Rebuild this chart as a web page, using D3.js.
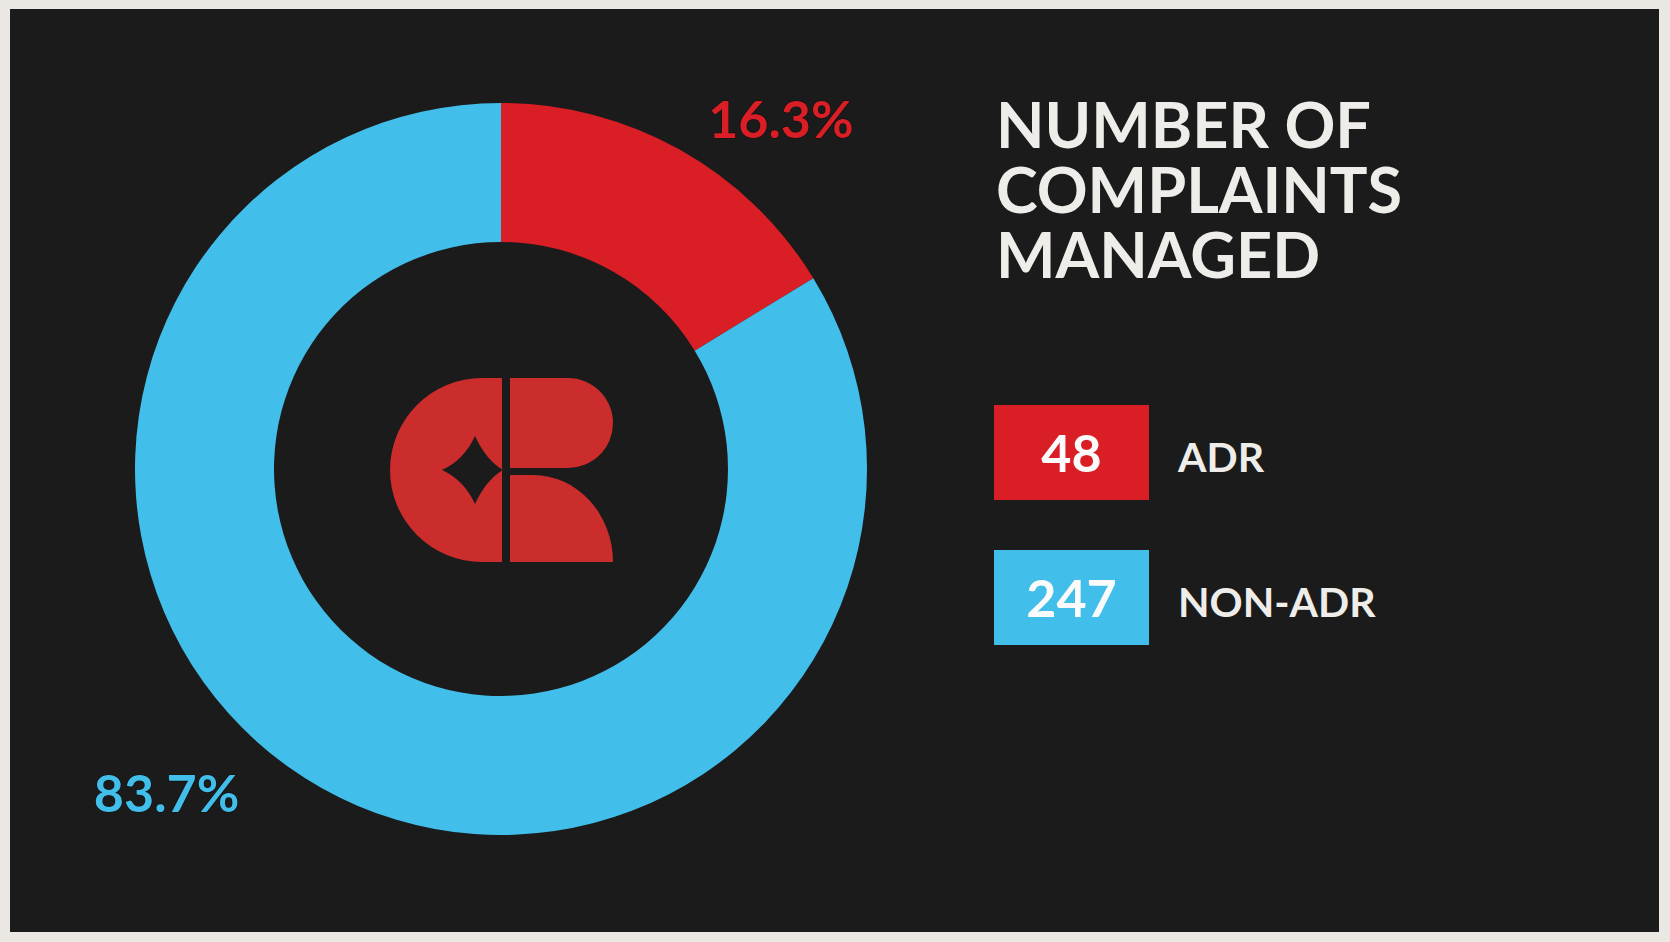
<!DOCTYPE html>
<html>
<head>
<meta charset="utf-8">
<script src="https://cdn.jsdelivr.net/npm/d3@7"></script>
<style>
  html, body { margin: 0; padding: 0; background: #ebe8e4; }
  svg { display: block; }
</style>
</head>
<body>
<svg id="chart" width="1670" height="942"></svg>
<script>
// ---- Dados
const categories = ['ADR', 'NON-ADR'];
const counts     = [48, 247];
const percents   = ['16.3%', '83.7%'];
const colors     = ['#da1e26', '#41bee9'];
const titleLines = ['NUMBER OF', 'COMPLAINTS', 'MANAGED'];

const svg = d3.select('#chart');
const W = 1670, H = 942;

// ---- Painel escuro
svg.append('rect')
    .attr('x', 10).attr('y', 9)
    .attr('width', W - 21).attr('height', H - 19)
    .attr('fill', '#1b1b1b');

// ---- Donut
const cx = 501, cy = 469;
const outerR = 366, innerR = 227;

const pie = d3.pie().sort(null).value(d => d)(counts);
const arc = d3.arc().innerRadius(innerR).outerRadius(outerR);

const g = svg.append('g').attr('transform', `translate(${cx}, ${cy})`);

g.selectAll('path.slice')
    .data(pie)
    .join('path')
    .attr('class', 'slice')
    .attr('d', arc)
    .attr('fill', (d, i) => colors[i]);

// rótulos de porcentagem fora do anel
const labelFrac = [0.66, 0.555];
const labelR    = [448, 466];
g.selectAll('text.pct')
    .data(pie)
    .join('text')
    .attr('class', 'pct')
    .attr('transform', (d, i) => {
        const a = d.startAngle + (d.endAngle - d.startAngle) * labelFrac[i];
        return `translate(${Math.sin(a) * labelR[i]}, ${-Math.cos(a) * labelR[i]})`;
    })
    .attr('text-anchor', 'middle')
    .attr('dy', '0.36em')
    .attr('font-family', 'Lato, "Open Sans", sans-serif')
    .attr('font-weight', 700)
    .attr('font-size', 52)
    .attr('fill', (d, i) => colors[i])
    .attr('stroke', '#111')
    .attr('stroke-width', 1.2)
    .attr('paint-order', 'stroke')
    .text((d, i) => percents[i]);

// ---- Logo no centro
const logo = svg.append('g')
    .attr('transform', `translate(${cx}, ${cy})`)
    .attr('fill', '#cb2c2c');

// metade esquerda (C) com estrela recortada
logo.append('path')
    .attr('fill-rule', 'evenodd')
    .attr('d', [
        'M1,-91 L-19,-91 A92,92 0 0 0 -19,93 L1,93 Z',
        // estrela de 4 pontas, lados pouco côncavos
        'M-59,1 Q-37,-9 -26,-33 Q-15,-9 2,1 Q-15,11 -26,35 Q-37,11 -59,1 Z'
    ].join(' '));

// parte superior direita
logo.append('path')
    .attr('d', 'M9,-91 L67,-91 A45,45 0 0 1 67,-1 L9,-1 Z');

// parte inferior direita
logo.append('path')
    .attr('d', 'M9,6 L32,6 A80,87 0 0 1 112,93 L9,93 Z');

// ---- Título
svg.append('g')
    .selectAll('text')
    .data(titleLines)
    .join('text')
    .attr('x', 996)
    .attr('y', (d, i) => 148 + i * 65)
    .attr('font-family', 'Lato, sans-serif')
    .attr('font-weight', 700)
    .attr('font-size', 63)
    .attr('fill', '#efedea')
    .text(d => d);

// ---- Legenda
const legend = svg.append('g').attr('transform', 'translate(994, 405)');
const item = legend.selectAll('g.item')
    .data(categories)
    .join('g')
    .attr('class', 'item')
    .attr('transform', (d, i) => `translate(0, ${i * 145})`);

item.append('rect')
    .attr('width', 155).attr('height', 95)
    .attr('fill', (d, i) => colors[i]);

item.append('text')
    .attr('x', 77.5).attr('y', 67)
    .attr('text-anchor', 'middle')
    .attr('font-family', 'Lato, sans-serif')
    .attr('font-weight', 700)
    .attr('font-size', 52)
    .attr('fill', '#fbfbfb')
    .text((d, i) => counts[i]);

item.append('text')
    .attr('x', 184).attr('y', 67)
    .attr('font-family', 'Lato, sans-serif')
    .attr('font-weight', 700)
    .attr('font-size', 41)
    .attr('fill', '#efedea')
    .text(d => d);
</script>
</body>
</html>
